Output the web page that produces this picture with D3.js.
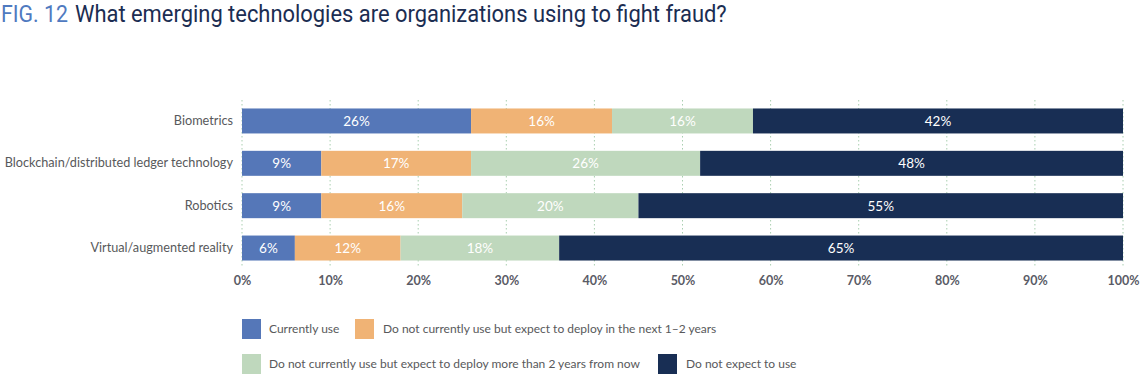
<!DOCTYPE html>
<html>
<head>
<meta charset="utf-8">
<script src="https://cdn.jsdelivr.net/npm/d3@7"></script>
<style>
  html, body { margin: 0; padding: 0; background: #fff; }
  svg { display: block; }
</style>
</head>
<body>
<svg id="chart" width="1140" height="376"></svg>
<script>
const categories = ["Biometrics", "Blockchain/distributed ledger technology", "Robotics", "Virtual/augmented reality"];
const currentlyUse = [26, 9, 9, 6];
const deployNext12 = [16, 17, 16, 12];
const deployLater = [16, 26, 20, 18];
const notExpect = [42, 48, 55, 65];
const seriesNames = [
  "Currently use",
  "Do not currently use but expect to deploy in the next 1\u20132 years",
  "Do not currently use but expect to deploy more than 2 years from now",
  "Do not expect to use"
];
const tickValues = [0, 10, 20, 30, 40, 50, 60, 70, 80, 90, 100];
const colors = ["#5577b8", "#f0b375", "#bfd8bd", "#182e54"];

const seriesData = [currentlyUse, deployNext12, deployLater, notExpect];
const rows = categories.map((c, i) => {
  const o = { cat: c };
  seriesNames.forEach((s, j) => o[s] = seriesData[j][i]);
  return o;
});
const stack = d3.stack().keys(seriesNames)(rows);

const svg = d3.select("#chart");
const x = d3.scaleLinear().domain([0, 100]).range([242, 1123]).clamp(true);
const y = d3.scaleBand().domain(categories).range([100, 269]).paddingInner(0.41).paddingOuter(0.2);

// title (condensed via horizontal scaling)
function condensedText(str, x0, width, color, weight) {
  const gg = svg.append("g");
  const t = gg.append("text")
    .attr("x", 0).attr("y", 0)
    .attr("font-family", "Roboto, 'Open Sans', sans-serif")
    .attr("font-size", 23)
    .attr("font-weight", weight)
    .attr("fill", color)
    .text(str);
  const w = t.node().getComputedTextLength();
  gg.attr("transform", `translate(${x0},22) scale(${width / w},1)`);
}
condensedText("FIG. 12", 1, 67, "#4f7ac0", 400);
condensedText("What emerging technologies are organizations using to fight fraud?", 75, 652, "#1b2d52", 400);

// gridlines
svg.append("g").selectAll("line").data(tickValues).join("line")
  .attr("x1", d => x(d)).attr("x2", d => x(d))
  .attr("y1", 100).attr("y2", 268)
  .attr("stroke", "#a9cfb0").attr("stroke-width", 1)
  .attr("stroke-dasharray", "1.5,2.5");

// bars
const g = svg.append("g");
stack.forEach((layer, si) => {
  g.append("g").selectAll("rect").data(layer).join("rect")
    .attr("x", d => x(d[0]))
    .attr("width", d => x(d[1]) - x(d[0]))
    .attr("y", d => y(d.data.cat))
    .attr("height", y.bandwidth())
    .attr("fill", colors[si]);
  g.append("g").selectAll("text").data(layer).join("text")
    .attr("x", d => (x(d[0]) + x(d[1])) / 2)
    .attr("y", d => y(d.data.cat) + y.bandwidth() / 2)
    .attr("dy", "0.36em")
    .attr("text-anchor", "middle")
    .attr("font-family", "Lato, 'Open Sans', sans-serif")
    .attr("font-size", 13.5)
    .attr("fill", "#ffffff")
    .text(d => (d[1] - d[0] === 0 ? "" : (d.data[seriesNames[si]]) + "%"));
});

// y axis labels
const yAxis = d3.axisLeft(y).tickSize(0).tickPadding(9);
const yg = svg.append("g").attr("transform", "translate(242,0)").call(yAxis);
yg.select(".domain").remove();
yg.selectAll("text")
  .attr("font-family", "Lato, 'Open Sans', sans-serif")
  .attr("font-size", 12.7)
  .attr("fill", "#58595b");

// x axis labels
const xAxis = d3.axisBottom(x).tickValues(tickValues).tickSize(0).tickPadding(0).tickFormat(d => d + "%");
const xg = svg.append("g").attr("transform", "translate(0,276)").call(xAxis);
xg.select(".domain").remove();
xg.selectAll("text")
  .attr("font-family", "Lato, 'Open Sans', sans-serif")
  .attr("font-weight", "bold")
  .attr("font-size", 12.5)
  .attr("fill", "#5a5b66");

// legend
const legendPos = [
  { x: 242, y: 319, tx: 269 },
  { x: 355, y: 319, tx: 383 },
  { x: 242, y: 354, tx: 269 },
  { x: 658, y: 354, tx: 686 }
];
const lg = svg.append("g");
seriesNames.forEach((s, i) => {
  const p = legendPos[i];
  lg.append("rect").attr("x", p.x).attr("y", p.y).attr("width", 19).attr("height", 20).attr("fill", colors[i]);
  lg.append("text").attr("x", p.tx).attr("y", p.y + 10).attr("dy", "0.36em")
    .attr("font-family", "Lato, 'Open Sans', sans-serif")
    .attr("font-size", 12)
    .attr("fill", "#58595b")
    .text(s);
});
</script>
</body>
</html>
